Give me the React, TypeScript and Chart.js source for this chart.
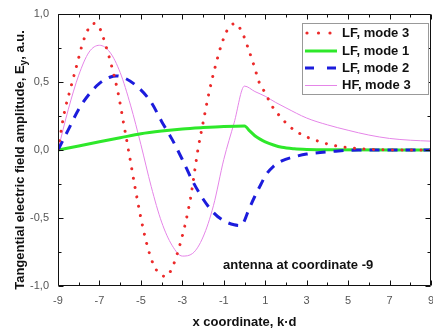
import React, { useEffect, useRef } from 'react';
import { Chart, registerables } from 'chart.js';

Chart.register(...registerables);

// ---- data ----
const X_TICKS = [-9, -7, -5, -3, -1, 1, 3, 5, 7, 9];
const X_MINOR = [-8, -6, -4, -2, 0, 2, 4, 6, 8];
const Y_TICKS = [-1, -0.5, 0, 0.5, 1];
const Y_MINOR = [-0.75, -0.25, 0.25, 0.75];

const LF3_X = [-9, -8.7, -8.4, -8.1, -7.8, -7.5, -7.25, -7.0, -6.7, -6.4, -6.1, -5.85, -5.6, -5.3, -5.0, -4.7, -4.4, -4.1, -3.8, -3.5, -3.2, -2.9, -2.6, -2.25, -2.0, -1.7, -1.4, -1.1, -0.8, -0.45, -0.1, 0.15, 0.5, 0.7, 1.0, 1.3, 1.7, 2.2, 2.8, 3.4, 4.2, 5.0, 6.0, 7.0, 8.0, 9.0];
const LF3_Y = [0, 0.27, 0.45, 0.62, 0.79, 0.9, 0.93, 0.9, 0.77, 0.61, 0.42, 0.21, 0, -0.26, -0.5, -0.7, -0.84, -0.91, -0.93, -0.87, -0.74, -0.57, -0.35, 0, 0.2, 0.43, 0.62, 0.78, 0.89, 0.93, 0.86, 0.76, 0.6, 0.5, 0.42, 0.33, 0.25, 0.17, 0.11, 0.073, 0.037, 0.018, 0.006, 0.001, 0, 0];

const LF1_X = [-9, -8, -7, -6, -5, -4, -3, -2, -1, 0, 0.25, 0.5, 0.75, 1, 1.4, 1.8, 2.4, 3, 4, 9];
const LF1_Y = [0, 0.03, 0.06, 0.09, 0.12, 0.14, 0.155, 0.165, 0.173, 0.177, 0.14, 0.105, 0.08, 0.06, 0.037, 0.02, 0.009, 0.004, 0.001, 0];

const LF2_X = [-9, -8.5, -8, -7.5, -7, -6.5, -6.2, -5.8, -5.2, -4.5, -4, -3.5, -3, -2.5, -2, -1.5, -1, -0.5, -0.15, 0, 0.15, 0.5, 0.8, 1.05, 1.4, 1.8, 2.4, 3, 4.3, 5.5, 9];
const LF2_Y = [0, 0.15, 0.3, 0.41, 0.49, 0.535, 0.545, 0.53, 0.47, 0.35, 0.21, 0.08, -0.07, -0.23, -0.36, -0.46, -0.52, -0.55, -0.555, -0.52, -0.46, -0.34, -0.25, -0.18, -0.12, -0.08, -0.05, -0.03, -0.01, 0, 0];

const HF3_X = [-9, -8.5, -8, -7.5, -7, -6.5, -6, -5.5, -5, -4.5, -4, -3.5, -3, -2.5, -2, -1.5, -1, -0.5, 0, 0.5, 1, 1.5, 2, 3, 4, 5, 6, 7, 8, 9];
const HF3_Y = [0, 0.3, 0.55, 0.72, 0.77, 0.72, 0.57, 0.33, 0.04, -0.27, -0.53, -0.7, -0.78, -0.76, -0.64, -0.41, -0.07, 0.2, 0.47, 0.43, 0.395, 0.35, 0.31, 0.235, 0.185, 0.145, 0.11, 0.085, 0.072, 0.065];

const LABELS = ['LF, mode 3', 'LF, mode 1', 'LF, mode 2', 'HF, mode 3'];
const ANNOTATION = 'antenna at coordinate -9';
const X_TITLE = 'x coordinate, k\u00b7d';
const Y_TITLE_A = 'Tangential electric field amplitude, E';
const Y_TITLE_SUB = 'y';
const Y_TITLE_B = ', a.u.';

// ---- styles ----
const FONT = '"Liberation Sans", Arial, sans-serif';
const RED = '#ec2a2a';
const GREEN = '#2ee82a';
const BLUE = '#1c1cdc';
const PINK = '#e585e8';

const pts = (xs: number[], ys: number[]) => xs.map((x, i) => ({ x, y: ys[i] }));

const decor = {
  id: 'decor',
  afterDraw(chart: any) {
    const { ctx, chartArea: a, scales } = chart;
    const xs = scales.x;
    const ys = scales.y;
    const L = Math.round(a.left) + 0.5;
    const R = Math.round(a.right) - 0.5;
    const T = Math.round(a.top) + 0.5;
    const B = Math.round(a.bottom) - 0.5;
    ctx.save();
    ctx.strokeStyle = '#111';
    ctx.lineWidth = 1;
    ctx.beginPath();
    ctx.rect(L, T, R - L, B - T);
    ctx.stroke();
    const tick = (vals: number[], len: number) => {
      vals.forEach((v) => {
        const px = Math.round(xs.getPixelForValue(v)) + 0.5;
        ctx.moveTo(px, B); ctx.lineTo(px, B - len);
        ctx.moveTo(px, T); ctx.lineTo(px, T + len);
      });
    };
    const ytick = (vals: number[], len: number) => {
      vals.forEach((v) => {
        const py = Math.round(ys.getPixelForValue(v)) + 0.5;
        ctx.moveTo(L, py); ctx.lineTo(L + len, py);
        ctx.moveTo(R, py); ctx.lineTo(R - len, py);
      });
    };
    ctx.beginPath();
    tick(X_TICKS, 5);
    tick(X_MINOR, 3);
    ytick(Y_TICKS, 5);
    ytick(Y_MINOR, 3);
    ctx.stroke();

    // legend
    const lx = 302.5, ly = 23.5, lw = 126, lh = 71;
    ctx.fillStyle = '#fff';
    ctx.fillRect(lx, ly, lw, lh);
    ctx.strokeStyle = '#999';
    ctx.strokeRect(lx, ly, lw, lh);
    const rows = [33, 51, 68, 85];
    const s0 = 305, s1 = 337;
    ctx.fillStyle = RED;
    [307, 318.5, 330].forEach((cx) => {
      ctx.beginPath(); ctx.arc(cx, rows[0], 1.6, 0, Math.PI * 2); ctx.fill();
    });
    ctx.lineCap = 'butt';
    ctx.strokeStyle = GREEN; ctx.lineWidth = 3;
    ctx.beginPath(); ctx.moveTo(s0, rows[1]); ctx.lineTo(s1, rows[1]); ctx.stroke();
    ctx.strokeStyle = BLUE; ctx.lineWidth = 3;
    ctx.beginPath(); ctx.moveTo(s0, rows[2]); ctx.lineTo(s0 + 9, rows[2]);
    ctx.moveTo(s0 + 22, rows[2]); ctx.lineTo(s0 + 31, rows[2]); ctx.stroke();
    ctx.strokeStyle = PINK; ctx.lineWidth = 1;
    ctx.beginPath(); ctx.moveTo(s0, rows[3] + 0.5); ctx.lineTo(s1, rows[3] + 0.5); ctx.stroke();
    ctx.fillStyle = '#111';
    ctx.font = `bold 13px ${FONT}`;
    ctx.textBaseline = 'middle';
    ctx.textAlign = 'left';
    LABELS.forEach((t, i) => ctx.fillText(t, 342, rows[i] + 0.5));

    // annotation
    ctx.fillText(ANNOTATION, 223, 265);

    // y title with subscript
    ctx.translate(19, 160);
    ctx.rotate(-Math.PI / 2);
    const fMain = `bold 13px ${FONT}`;
    const fSub = `bold 10px ${FONT}`;
    ctx.font = fMain;
    const wA = ctx.measureText(Y_TITLE_A).width;
    const wB = ctx.measureText(Y_TITLE_B).width;
    ctx.font = fSub;
    const wS = ctx.measureText(Y_TITLE_SUB).width;
    const total = wA + wS + wB;
    let cx = -total / 2;
    ctx.textBaseline = 'alphabetic';
    ctx.font = fMain;
    ctx.fillText(Y_TITLE_A, cx, 4.5);
    cx += wA;
    ctx.font = fSub;
    ctx.fillText(Y_TITLE_SUB, cx, 8);
    cx += wS;
    ctx.font = fMain;
    ctx.fillText(Y_TITLE_B, cx, 4.5);
    ctx.restore();
  },
};

export default function App() {
  const ref = useRef<HTMLCanvasElement>(null);
  useEffect(() => {
    document.body.style.margin = '0';
    const chart = new Chart(ref.current as HTMLCanvasElement, {
      type: 'line',
      data: {
        datasets: [
          {
            label: LABELS[0], data: pts(LF3_X, LF3_Y), borderColor: RED, borderWidth: 3,
            borderDash: [0.01, 9.5], borderCapStyle: 'round', pointRadius: 0, order: 0,
            cubicInterpolationMode: 'monotone',
          },
          {
            label: LABELS[1], data: pts(LF1_X, LF1_Y), borderColor: GREEN, borderWidth: 3,
            pointRadius: 0, order: 2, cubicInterpolationMode: 'monotone',
          },
          {
            label: LABELS[2], data: pts(LF2_X, LF2_Y), borderColor: BLUE, borderWidth: 3,
            borderDash: [10, 8], pointRadius: 0, order: 1, cubicInterpolationMode: 'monotone',
          },
          {
            label: LABELS[3], data: pts(HF3_X, HF3_Y), borderColor: PINK, borderWidth: 1,
            pointRadius: 0, order: 3, cubicInterpolationMode: 'monotone',
          },
        ] as any,
      },
      options: {
        responsive: false,
        animation: false,
        devicePixelRatio: 1,
        layout: { padding: { top: 14, right: 2, left: 0, bottom: 0 } },
        plugins: { legend: { display: false }, tooltip: { enabled: false } },
        scales: {
          x: {
            type: 'linear', min: -9, max: 9,
            afterBuildTicks: (s: any) => { s.ticks = X_TICKS.map((v) => ({ value: v })); },
            afterFit: (s: any) => { s.height = 45; s.paddingLeft = 0; s.paddingRight = 0; },
            grid: { display: false, drawTicks: false },
            border: { display: false },
            ticks: {
              color: '#555', font: { family: FONT, size: 11 }, padding: 8,
              maxRotation: 0, autoSkip: false,
              callback: (v: any) => String(v),
            },
            title: {
              display: true, text: X_TITLE, color: '#111',
              font: { family: FONT, size: 13, weight: 'bold' }, padding: { top: 0, bottom: 1 },
            },
          },
          y: {
            type: 'linear', min: -1, max: 1,
            afterBuildTicks: (s: any) => { s.ticks = Y_TICKS.map((v) => ({ value: v })); },
            afterFit: (s: any) => { s.width = 58; s.paddingTop = 0; s.paddingBottom = 0; },
            grid: { display: false, drawTicks: false },
            border: { display: false },
            ticks: {
              color: '#555', font: { family: FONT, size: 11 }, padding: 9,
              callback: (v: any) => Number(v).toFixed(1).replace('.', ','),
            },
          },
        },
      } as any,
      plugins: [decor],
    });
    return () => chart.destroy();
  }, []);
  return (
    <div style={{ width: 433, height: 331 }}>
      <canvas ref={ref} width={433} height={331} style={{ display: 'block', width: 433, height: 331 }} />
    </div>
  );
}
